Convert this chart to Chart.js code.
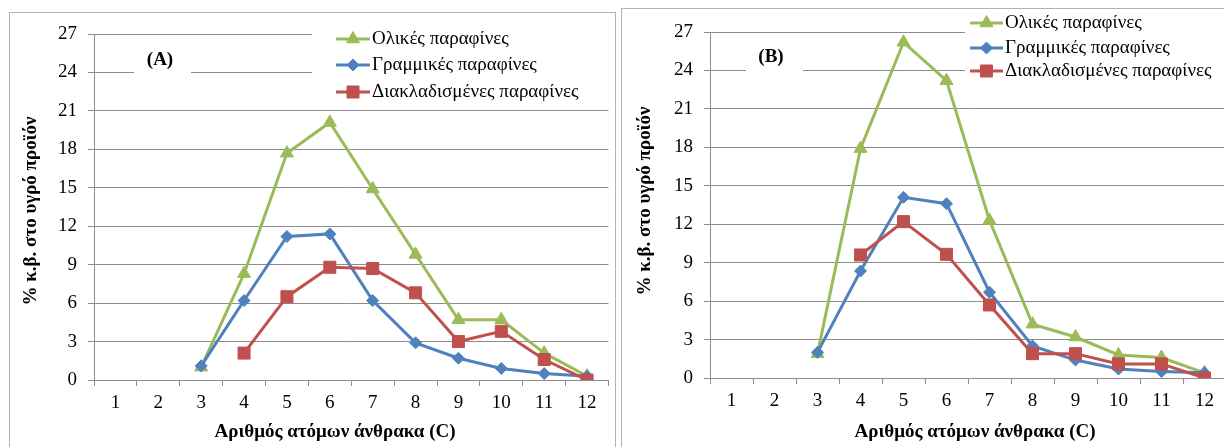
<!DOCTYPE html>
<html>
<head>
<meta charset="utf-8">
<script src="https://cdn.jsdelivr.net/npm/chart.js@4.4.1/dist/chart.umd.min.js"></script>
<style>
  html, body { margin: 0; padding: 0; background: #ffffff; width: 1224px; height: 447px; overflow: hidden; position: relative; }
  .frame { position: absolute; border: 1px solid #b3b3b3; box-sizing: border-box; }
  canvas { position: absolute; top: 0; }
</style>
</head>
<body>
<div class="frame" style="left:9px; top:12px; width:607px; height:460px;"></div>
<div class="frame" style="left:621px; top:8px; width:640px; height:460px;"></div>
<canvas id="chartA" width="618" height="447" style="left:0px;"></canvas>
<canvas id="chartB" width="620" height="447" style="left:618px;"></canvas>
<script>
// ---------- DATA ----------
const categories = ['1','2','3','4','5','6','7','8','9','10','11','12'];
const seriesNames = ['Ολικές παραφίνες', 'Γραμμικές παραφίνες', 'Διακλαδισμένες παραφίνες'];
const yTicks = [0, 3, 6, 9, 12, 15, 18, 21, 24, 27];
const yAxisTitle = '% κ.β. στο υγρό προϊόν';
const xAxisTitle = 'Αριθμός ατόμων άνθρακα (C)';

// Chart (A)
const totalA    = [null, null, 1.0, 8.3, 17.7, 20.1, 14.9, 9.8, 4.7, 4.7, 2.1, 0.3];
const linearA   = [null, null, 1.1, 6.2, 11.2, 11.4, 6.2, 2.9, 1.7, 0.9, 0.5, 0.3];
const branchedA = [null, null, null, 2.1, 6.5, 8.8, 8.7, 6.8, 3.0, 3.8, 1.6, 0.0];

// Chart (B)
const totalB    = [null, null, 1.9, 17.9, 26.2, 23.2, 12.3, 4.2, 3.2, 1.8, 1.6, 0.4];
const linearB   = [null, null, 2.0, 8.35, 14.1, 13.6, 6.7, 2.5, 1.4, 0.7, 0.5, 0.4];
const branchedB = [null, null, null, 9.6, 12.2, 9.65, 5.7, 1.9, 1.9, 1.1, 1.1, 0.0];

// ---------- STYLE ----------
const GREEN = '#9BBB59', BLUE = '#4F81BD', RED = '#C0504D';
const GRID = '#8c8c8c';
const SERIF = "'Liberation Serif', 'Times New Roman', serif";
const styles = [
  { color: GREEN, pointStyle: 'triangle', radius: 7.5, order: 2 },
  { color: BLUE,  pointStyle: 'rectRot',  radius: 6,   order: 1 },
  { color: RED,   pointStyle: 'rect',     radius: 8.5, order: 0 }
];

function makeDataset(i, values) {
  const s = styles[i];
  return {
    label: seriesNames[i],
    data: values,
    borderColor: s.color,
    backgroundColor: s.color,
    borderWidth: 3,
    pointStyle: s.pointStyle,
    pointRadius: s.radius,
    pointHoverRadius: s.radius,
    pointBorderWidth: 1,
    pointBackgroundColor: s.color,
    pointBorderColor: s.color,
    tension: 0,
    spanGaps: false,
    order: s.order
  };
}

function overlayPlugin(cfg) {
  return {
    id: 'overlay',
    afterDraw(chart) {
      const ctx = chart.ctx;
      ctx.save();
      // legend white box
      ctx.fillStyle = '#ffffff';
      ctx.fillRect(cfg.legendBox[0], cfg.legendBox[1], cfg.legendBox[2], cfg.legendBox[3]);
      // panel label white box
      ctx.fillRect(cfg.labelBox[0], cfg.labelBox[1], cfg.labelBox[2], cfg.labelBox[3]);
      // legend entries
      for (let i = 0; i < 3; i++) {
        const y = cfg.legendRows[i];
        const s = styles[i];
        ctx.strokeStyle = s.color;
        ctx.lineWidth = 3;
        ctx.beginPath();
        ctx.moveTo(cfg.legendLine[0], y);
        ctx.lineTo(cfg.legendLine[1], y);
        ctx.stroke();
        ctx.fillStyle = s.color;
        ctx.lineWidth = 1;
        Chart.helpers.drawPoint(ctx, { pointStyle: s.pointStyle, radius: s.radius, rotation: 0, borderWidth: 1 },
          (cfg.legendLine[0] + cfg.legendLine[1]) / 2, y);
        ctx.fillStyle = '#000000';
        ctx.font = '19px ' + SERIF;
        ctx.textAlign = 'left';
        ctx.textBaseline = 'middle';
        ctx.fillText(seriesNames[i], cfg.legendText, y);
      }
      // panel label
      ctx.fillStyle = '#000000';
      ctx.font = 'bold 19px ' + SERIF;
      ctx.textAlign = 'center';
      ctx.textBaseline = 'middle';
      ctx.fillText(cfg.label, cfg.labelPos[0], cfg.labelPos[1]);
      // x axis title
      ctx.fillText(xAxisTitle, cfg.xTitle[0], cfg.xTitle[1]);
      // y axis title
      ctx.save();
      ctx.translate(cfg.yTitle[0], cfg.yTitle[1]);
      ctx.rotate(-Math.PI / 2);
      ctx.fillText(yAxisTitle, 0, 0);
      ctx.restore();
      ctx.restore();
    }
  };
}

function makeChart(id, datasets, layout, cfg) {
  return new Chart(document.getElementById(id), {
    type: 'line',
    data: { labels: categories, datasets: datasets },
    options: {
      responsive: false,
      devicePixelRatio: 1,
      animation: false,
      events: [],
      layout: { padding: { top: layout.top, right: layout.right, left: 0, bottom: 0 } },
      plugins: { legend: { display: false }, tooltip: { enabled: false }, title: { display: false } },
      scales: {
        x: {
          type: 'category',
          offset: true,
          grid: { offset: true, drawOnChartArea: false, drawTicks: true, tickLength: 6, color: GRID, lineWidth: 1 },
          border: { display: true, color: GRID, width: 1 },
          ticks: { color: '#000000', font: { family: SERIF, size: 19 }, padding: 6, maxRotation: 0, autoSkip: false },
          afterFit(scale) { scale.height = layout.xHeight; }
        },
        y: {
          min: 0, max: 27,
          afterBuildTicks(scale) { scale.ticks = yTicks.map(v => ({ value: v })); },
          grid: { color: GRID, lineWidth: 1, drawTicks: true, tickLength: 6 },
          border: { display: true, color: GRID, width: 1 },
          ticks: { color: '#000000', font: { family: SERIF, size: 19 }, padding: 11 },
          afterFit(scale) { scale.width = layout.yWidth; }
        }
      }
    },
    plugins: [overlayPlugin(cfg)]
  });
}

makeChart('chartA',
  [makeDataset(0, totalA), makeDataset(1, linearA), makeDataset(2, branchedA)],
  { top: 34, right: 4, xHeight: 67, yWidth: 94 },
  {
    legendBox: [312, 18, 301, 86],
    labelBox: [134, 46, 57, 28],
    legendRows: [39, 65, 92],
    legendLine: [336, 370],
    legendText: 372,
    label: '(A)', labelPos: [160, 60],
    xTitle: [335, 432],
    yTitle: [31, 211]
  });

makeChart('chartB',
  [makeDataset(0, totalB), makeDataset(1, linearB), makeDataset(2, branchedB)],
  { top: 32, right: 12, xHeight: 69, yWidth: 92 },
  {
    legendBox: [347, 10, 273, 74],
    labelBox: [128, 43, 57, 28],
    legendRows: [23, 48, 71],
    legendLine: [352, 385],
    legendText: 387,
    label: '(B)', labelPos: [153, 57],
    xTitle: [357, 432],
    yTitle: [27, 201]
  });
</script>
</body>
</html>
